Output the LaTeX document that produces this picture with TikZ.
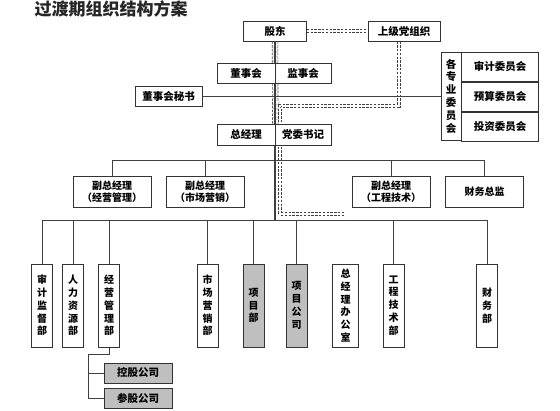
\documentclass[tikz,border=0pt]{standalone}
\usepackage{fontspec}
\setmainfont{Noto Sans CJK SC}
\usetikzlibrary{backgrounds}

\begin{document}
\begin{tikzpicture}[x=1pt, y=-1pt,
  box/.style={draw=black!80, fill=white, line width=0.7pt, inner sep=0pt,
    align=center, font=\bfseries\fontsize{10.5}{12.5}\selectfont},
  dept/.style={box, minimum width=21pt, minimum height=83pt,
    font=\bfseries\fontsize{10}{12.8}\selectfont},
  plain/.style={},
  shaded/.style={fill=black!25},
  conn/.style={draw=black!75, line width=0.8pt},
  party/.style={draw=black!75, dash pattern=on 2.4pt off 1.4pt, line width=0.6pt,
    double=white, double distance=2.4pt},
  tube/.style={party, double distance=5pt}]
  \useasboundingbox (0,0) rectangle (560,411);
  \node[anchor=west, text=black!85, font=\bfseries\fontsize{17}{17}\selectfont] (title) at (31,9) {过渡期组织结构方案};
  % top of the tree
  \node[box, minimum width=63pt, minimum height=20pt] (gd) at (275,31) {股东};
  \node[box, minimum width=72pt, minimum height=20pt] (sj) at (404,31) {上级党组织};
  \node[box, minimum width=58pt, minimum height=20pt] (dsh) at (246,73) {董事会};
  \node[box, minimum width=56pt, minimum height=20pt] (jsh) at (303,73) {监事会};
  \node[box, minimum width=67pt, minimum height=20pt] (ms) at (168.5,96) {董事会秘书};
  \node[box, minimum width=58pt, minimum height=21pt] (zjl) at (246,134.5) {总经理};
  \node[box, minimum width=56pt, minimum height=21pt] (dw) at (303,134.5) {党委书记};
  % committees
  \node[box, minimum width=20pt, minimum height=88pt,
    font=\bfseries\fontsize{10.5}{12.8}\selectfont] (gwh) at (451,96) {各\\专\\业\\委\\员\\会};
  \node[box, minimum width=77pt, minimum height=29.33pt, anchor=north west] (sjw) at (gwh.north east) {审计委员会};
  \node[box, minimum width=77pt, minimum height=29.33pt, anchor=north west] (ysw) at (sjw.south west) {预算委员会};
  \node[box, minimum width=77pt, minimum height=29.33pt, anchor=north west] (tzw) at (ysw.south west) {投资委员会};
  % vice managers
  \foreach \x/\name/\txt in {112/fz1/{副总经理\\（经营管理）}, 205/fz2/{副总经理\\（市场营销）},
      391/fz3/{副总经理\\（工程技术）}, 484.5/cw/{财务总监}}
    \node[box, minimum width=78pt, minimum height=31pt, font=\bfseries\fontsize{10}{12.5}\selectfont] (\name) at (\x,191.5) {\txt};
  % departments
  \foreach \x/\name/\sty/\txt in {42/sjjd/plain/{审\\计\\监\\督\\部}, 73/rlzy/plain/{人\\力\\资\\源\\部},
      109/jygl/plain/{经\\营\\管\\理\\部}, 207.5/scyx/plain/{市\\场\\营\\销\\部},
      253.5/xmb/shaded/{项\\目\\部}, 296.5/xmgs/shaded/{项\\目\\公\\司},
      393.5/gcjs/plain/{工\\程\\技\\术\\部}, 487/cwb/plain/{财\\务\\部}}
    \node[dept, \sty] (\name) at (\x,305.5) {\txt};
  \node[dept, minimum width=26pt] (zjb) at (345.5,305.5) {总\\经\\理\\办\\公\\室};
  \node[box, shaded, minimum width=68pt, minimum height=20pt] (kg) at (138,373) {控股公司};
  \node[box, shaded, minimum width=68pt, minimum height=20pt] (cg) at (138,398) {参股公司};
  \coordinate (hub1) at (275,160);
  \coordinate (hub2) at (275,220);
  \coordinate (pk1) at (280,106);
  \coordinate (pk2) at (280,214);
  \coordinate (sub) at (88,354);
  \begin{scope}[on background layer]
    % party lines
    \draw[party] (gd.east) -- (sj.west);
    \draw[tube] (gd.south) -- (zjl.north east);
    \draw[party] ([xshift=-5pt]sj.south) |- (pk1) -- (pk2) -| (zjb.north);
    % reporting lines
    \draw[conn, line width=1.1pt] (gd.south) -- (hub2);
    \draw[conn] (ms.east) -- (gwh.west);
    \foreach \n in {fz1,fz2,fz3,cw}
      \draw[conn] (\n.north) -- (\n.north |- hub1);
    \draw[conn] (fz1.north |- hub1) -- (cw.north |- hub1);
    \foreach \n in {sjjd,rlzy,jygl,scyx,xmb,xmgs,gcjs,cwb}
      \draw[conn] (\n.north) -- (\n.north |- hub2);
    \draw[conn] (sjjd.north |- hub2) -- (cwb.north |- hub2);
    \draw[conn] (jygl.south) |- (sub) |- (cg.west);
    \draw[conn] (sub |- kg.west) -- (kg.west);
  \end{scope}
\end{tikzpicture}
\end{document}
